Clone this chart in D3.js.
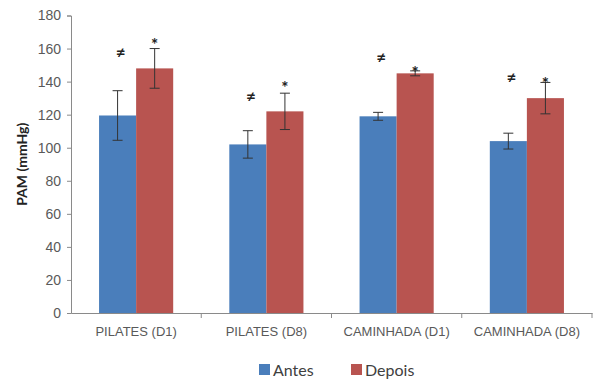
<!DOCTYPE html>
<html>
<head>
<meta charset="utf-8">
<script src="https://cdn.jsdelivr.net/npm/d3@7"></script>
<style>
  body { margin: 0; background: #fff; }
  svg { display: block; font-family: Lato, "Open Sans", sans-serif; }
</style>
</head>
<body>
<div id="chart"></div>
<script>
// data
const categories = ["PILATES (D1)", "PILATES (D8)", "CAMINHADA (D1)", "CAMINHADA (D8)"];
const series = ["Antes", "Depois"];
const antes = [119.5, 102, 119, 104];
const antesErr = [15, 8.3, 2.4, 4.8];
const depois = [148, 122, 145, 130];
const depoisErr = [12, 11, 1.5, 9.5];
// heights (in mmHg) where the significance marks sit
const neqPos = [158, 131, 155, 143];
const starPos = [166, 140, 149, 142];
const yTicks = [0, 20, 40, 60, 80, 100, 120, 140, 160, 180];

const width = 594;
const height = 380;
const margin = { top: 15.5, right: 2, bottom: 67, left: 71 };
const colors = { Antes: "#4A7EBB", Depois: "#B85450" };

const svg = d3.select("#chart")
  .append("svg")
  .attr("width", width)
  .attr("height", height);

const x0 = d3.scaleBand()
  .domain(categories)
  .range([margin.left, width - margin.right])
  .paddingInner(0)
  .paddingOuter(0);

const x1 = d3.scaleBand()
  .domain(series)
  .range([0, x0.bandwidth()])
  .paddingOuter(0.757)
  .paddingInner(0);

const y = d3.scaleLinear()
  .domain([0, 180])
  .range([height - margin.bottom, margin.top]);

const rows = categories.map((c, i) => ({
  cat: c,
  values: [
    { key: "Antes", v: antes[i], err: antesErr[i], mark: "≠", markPos: neqPos[i] },
    { key: "Depois", v: depois[i], err: depoisErr[i], mark: "*", markPos: starPos[i] }
  ]
}));

// y axis
const yAxis = svg.append("g")
  .attr("transform", `translate(${margin.left},0)`)
  .call(d3.axisLeft(y).tickValues(yTicks).tickSize(4).tickPadding(6));
yAxis.select(".domain").attr("stroke", "#8a8a8a");
yAxis.selectAll(".tick line").attr("stroke", "#8a8a8a");
yAxis.selectAll(".tick text")
  .attr("fill", "#595959")
  .style("font-size", "14px");

// x axis
const xAxis = svg.append("g")
  .attr("transform", `translate(0,${y(0)})`)
  .call(d3.axisBottom(x0).tickSize(0).tickPadding(14));
xAxis.select(".domain").attr("stroke", "#8a8a8a");
xAxis.selectAll(".tick text")
  .attr("fill", "#595959")
  .style("font-size", "13px");

// tick marks between categories
svg.append("g")
  .selectAll("line")
  .data(categories)
  .enter()
  .append("line")
  .attr("x1", d => x0(d) + x0.bandwidth())
  .attr("x2", d => x0(d) + x0.bandwidth())
  .attr("y1", y(0))
  .attr("y2", y(0) + 5)
  .attr("stroke", "#8a8a8a");

const groups = svg.append("g")
  .selectAll("g")
  .data(rows)
  .enter()
  .append("g")
  .attr("transform", d => `translate(${x0(d.cat)},0)`);

const bars = groups.selectAll("g")
  .data(d => d.values)
  .enter()
  .append("g");

bars.append("rect")
  .attr("x", d => x1(d.key))
  .attr("y", d => y(d.v))
  .attr("width", x1.bandwidth())
  .attr("height", d => y(0) - y(d.v))
  .attr("fill", d => colors[d.key]);

// error bars
const cx = d => x1(d.key) + x1.bandwidth() / 2;
bars.append("line")
  .attr("x1", cx).attr("x2", cx)
  .attr("y1", d => y(d.v + d.err))
  .attr("y2", d => y(d.v - d.err))
  .attr("stroke", "#333")
  .attr("stroke-width", 1);
[1, -1].forEach(s => {
  bars.append("line")
    .attr("x1", d => cx(d) - 5)
    .attr("x2", d => cx(d) + 5)
    .attr("y1", d => y(d.v + s * d.err))
    .attr("y2", d => y(d.v + s * d.err))
    .attr("stroke", "#333")
    .attr("stroke-width", 1);
});

// significance marks
bars.append("text")
  .attr("x", d => cx(d) + (d.key === "Antes" ? 3 : 0))
  .attr("y", d => y(d.markPos))
  .attr("dy", d => d.key === "Antes" ? "0.35em" : "0.7em")
  .attr("text-anchor", "middle")
  .style("font-size", "17px")
  .style("font-weight", "bold")
  .attr("fill", "#222")
  .text(d => d.mark);

// y label
svg.append("text")
  .attr("transform", `translate(22,${(y(0) + y(180)) / 2}) rotate(-90)`)
  .attr("text-anchor", "middle")
  .attr("dy", "0.35em")
  .style("font-size", "14px")
  .style("font-weight", "bold")
  .attr("fill", "#222")
  .text("PAM (mmHg)");

// legend
const legend = svg.append("g")
  .selectAll("g")
  .data(series)
  .enter()
  .append("g")
  .attr("transform", (d, i) => `translate(${259 + i * 92},370)`);
legend.append("rect")
  .attr("x", 0).attr("y", -6)
  .attr("width", 11).attr("height", 11)
  .attr("fill", d => colors[d]);
legend.append("text")
  .attr("x", 14)
  .attr("dy", "0.35em")
  .style("font-size", "16px")
  .attr("fill", "#404040")
  .text(d => d);
</script>
</body>
</html>
